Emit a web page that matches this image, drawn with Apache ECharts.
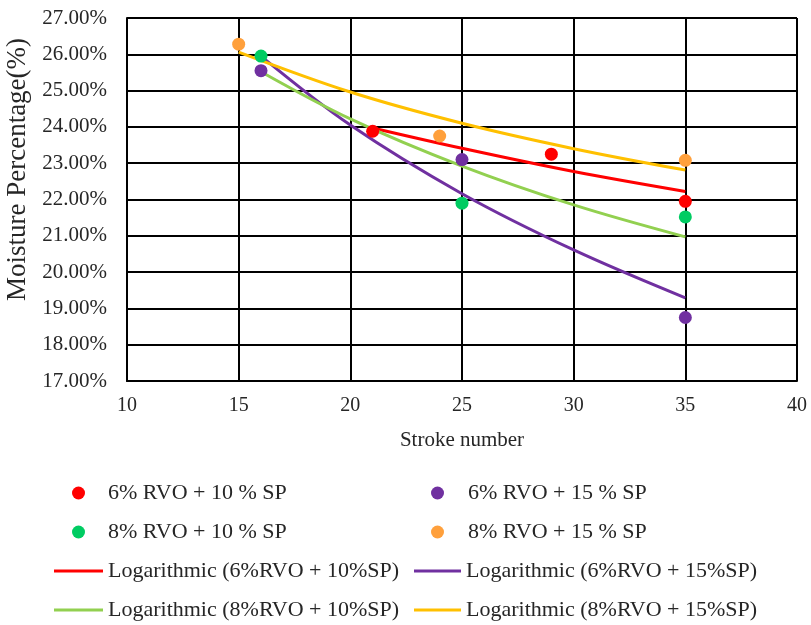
<!DOCTYPE html>
<html>
<head>
<meta charset="utf-8">
<script src="https://cdn.jsdelivr.net/npm/echarts@6/dist/echarts.min.js"></script>
<style>
html,body{margin:0;padding:0;background:#fff;}
#chart{width:811px;height:625px;}
</style>
</head>
<body>
<div id="chart"></div>
<script>
// ---- data ----
const xTicks = [10, 15, 20, 25, 30, 35, 40];
const yTicks = [17, 18, 19, 20, 21, 22, 23, 24, 25, 26, 27];

const pointNames = ["6% RVO + 10 % SP", "6% RVO + 15 % SP", "8% RVO + 10 % SP", "8% RVO + 15 % SP"];
const trendNames = ["Logarithmic (6%RVO + 10%SP)", "Logarithmic (6%RVO + 15%SP)", "Logarithmic (8%RVO + 10%SP)", "Logarithmic (8%RVO + 15%SP)"];

// measured points (stroke number, moisture %)
const strokes6_10 = [21, 29, 35];
const moist6_10   = [23.88, 23.25, 21.95];
const strokes6_15 = [16, 25, 35];
const moist6_15   = [25.55, 23.10, 18.75];
const strokes8_10 = [16, 25, 35];
const moist8_10   = [25.95, 21.90, 21.52];
const strokes8_15 = [15, 24, 35];
const moist8_15   = [26.28, 23.75, 23.08];

// trend lines
const trendX6_10 = [21, 25, 30, 35];
const trendY6_10 = [23.97, 23.41, 22.77, 22.22];
const trendX6_15 = [16, 20, 25, 30, 35];
const trendY6_15 = [25.95, 24.05, 22.16, 20.61, 19.29];
const trendX8_10 = [16, 20, 25, 30, 35];
const trendY8_10 = [25.52, 24.22, 22.92, 21.85, 20.97];
const trendX8_15 = [15, 20, 25, 30, 35];
const trendY8_15 = [26.06, 24.96, 24.10, 23.40, 22.81];

const pointColors = ['#FF0000', '#7030A0', '#00CC62', '#FFA03C'];
const trendColors = ['#FF0000', '#7030A0', '#92D050', '#FFC000'];

function zip(xs, ys) { return xs.map((x, i) => [x, ys[i]]); }

const pointData = [
  zip(strokes6_10, moist6_10),
  zip(strokes6_15, moist6_15),
  zip(strokes8_10, moist8_10),
  zip(strokes8_15, moist8_15)
];
const trendData = [
  zip(trendX6_10, trendY6_10),
  zip(trendX6_15, trendY6_15),
  zip(trendX8_10, trendY8_10),
  zip(trendX8_15, trendY8_15)
];

const FONT = '"Times New Roman", "Liberation Serif", serif';
const TXT = '#262626';

const series = [];
trendNames.forEach((n, i) => {
  series.push({
    name: n, type: 'line', data: trendData[i], smooth: 0.35,
    showSymbol: false, symbol: 'none', z: 2,
    lineStyle: { color: trendColors[i], width: 3 },
    itemStyle: { color: trendColors[i] }
  });
});
pointNames.forEach((n, i) => {
  series.push({
    name: n, type: 'scatter', data: pointData[i], symbol: 'circle', symbolSize: 13, z: 3,
    itemStyle: { color: pointColors[i], opacity: 1 }
  });
});

function legendItem(name, left, top, isLine, textPad) {
  return {
    data: [name], left: left, top: top, orient: 'horizontal', padding: 0,
    icon: isLine ? 'rect' : 'circle',
    itemWidth: isLine ? (left > 300 ? 47 : 49) : 13,
    itemHeight: isLine ? 3 : 13,
    selectedMode: false,
    textStyle: { fontFamily: FONT, fontSize: 22, color: TXT, padding: [0, 0, 0, textPad || 0] }
  };
}

const legends = [
  legendItem(pointNames[0], 72, 482, false, 18),
  legendItem(pointNames[1], 431, 482, false, 19),
  legendItem(pointNames[2], 72, 521, false, 18),
  legendItem(pointNames[3], 431, 521, false, 19),
  legendItem(trendNames[0], 54, 560, true),
  legendItem(trendNames[1], 414, 560, true),
  legendItem(trendNames[2], 54, 599, true),
  legendItem(trendNames[3], 414, 599, true)
];

const chart = echarts.init(document.getElementById('chart'), null, { renderer: 'canvas' });
chart.setOption({
  backgroundColor: '#fff',
  animation: false,
  grid: { left: 127, right: 14, top: 18, bottom: 244, containLabel: false, outerBoundsMode: 'none' },
  legend: legends,
  xAxis: {
    type: 'value', min: xTicks[0], max: xTicks[xTicks.length - 1], interval: 5,
    name: 'Stroke number', nameLocation: 'middle', nameGap: 49,
    nameTextStyle: { fontFamily: FONT, fontSize: 21, color: TXT },
    axisLine: { show: true, lineStyle: { color: '#000', width: 2 } },
    axisTick: { show: false },
    axisLabel: { margin: 15, fontFamily: FONT, fontSize: 20, color: TXT },
    splitLine: { show: true, lineStyle: { color: '#000', width: 2 } }
  },
  yAxis: {
    type: 'value', min: yTicks[0], max: yTicks[yTicks.length - 1], interval: 1,
    name: 'Moisture Percentage(%)', nameLocation: 'middle', nameGap: 89, nameRotate: 90,
    nameTextStyle: { fontFamily: FONT, fontSize: 27, color: TXT, padding: [0, 0, 0, 60] },
    axisLine: { show: true, lineStyle: { color: '#000', width: 2 } },
    axisTick: { show: false },
    axisLabel: { margin: 20, fontFamily: FONT, fontSize: 21, color: TXT,
      formatter: v => v.toFixed(2) + '%' },
    splitLine: { show: true, lineStyle: { color: '#000', width: 2 } }
  },
  series: series
});
</script>
</body>
</html>
